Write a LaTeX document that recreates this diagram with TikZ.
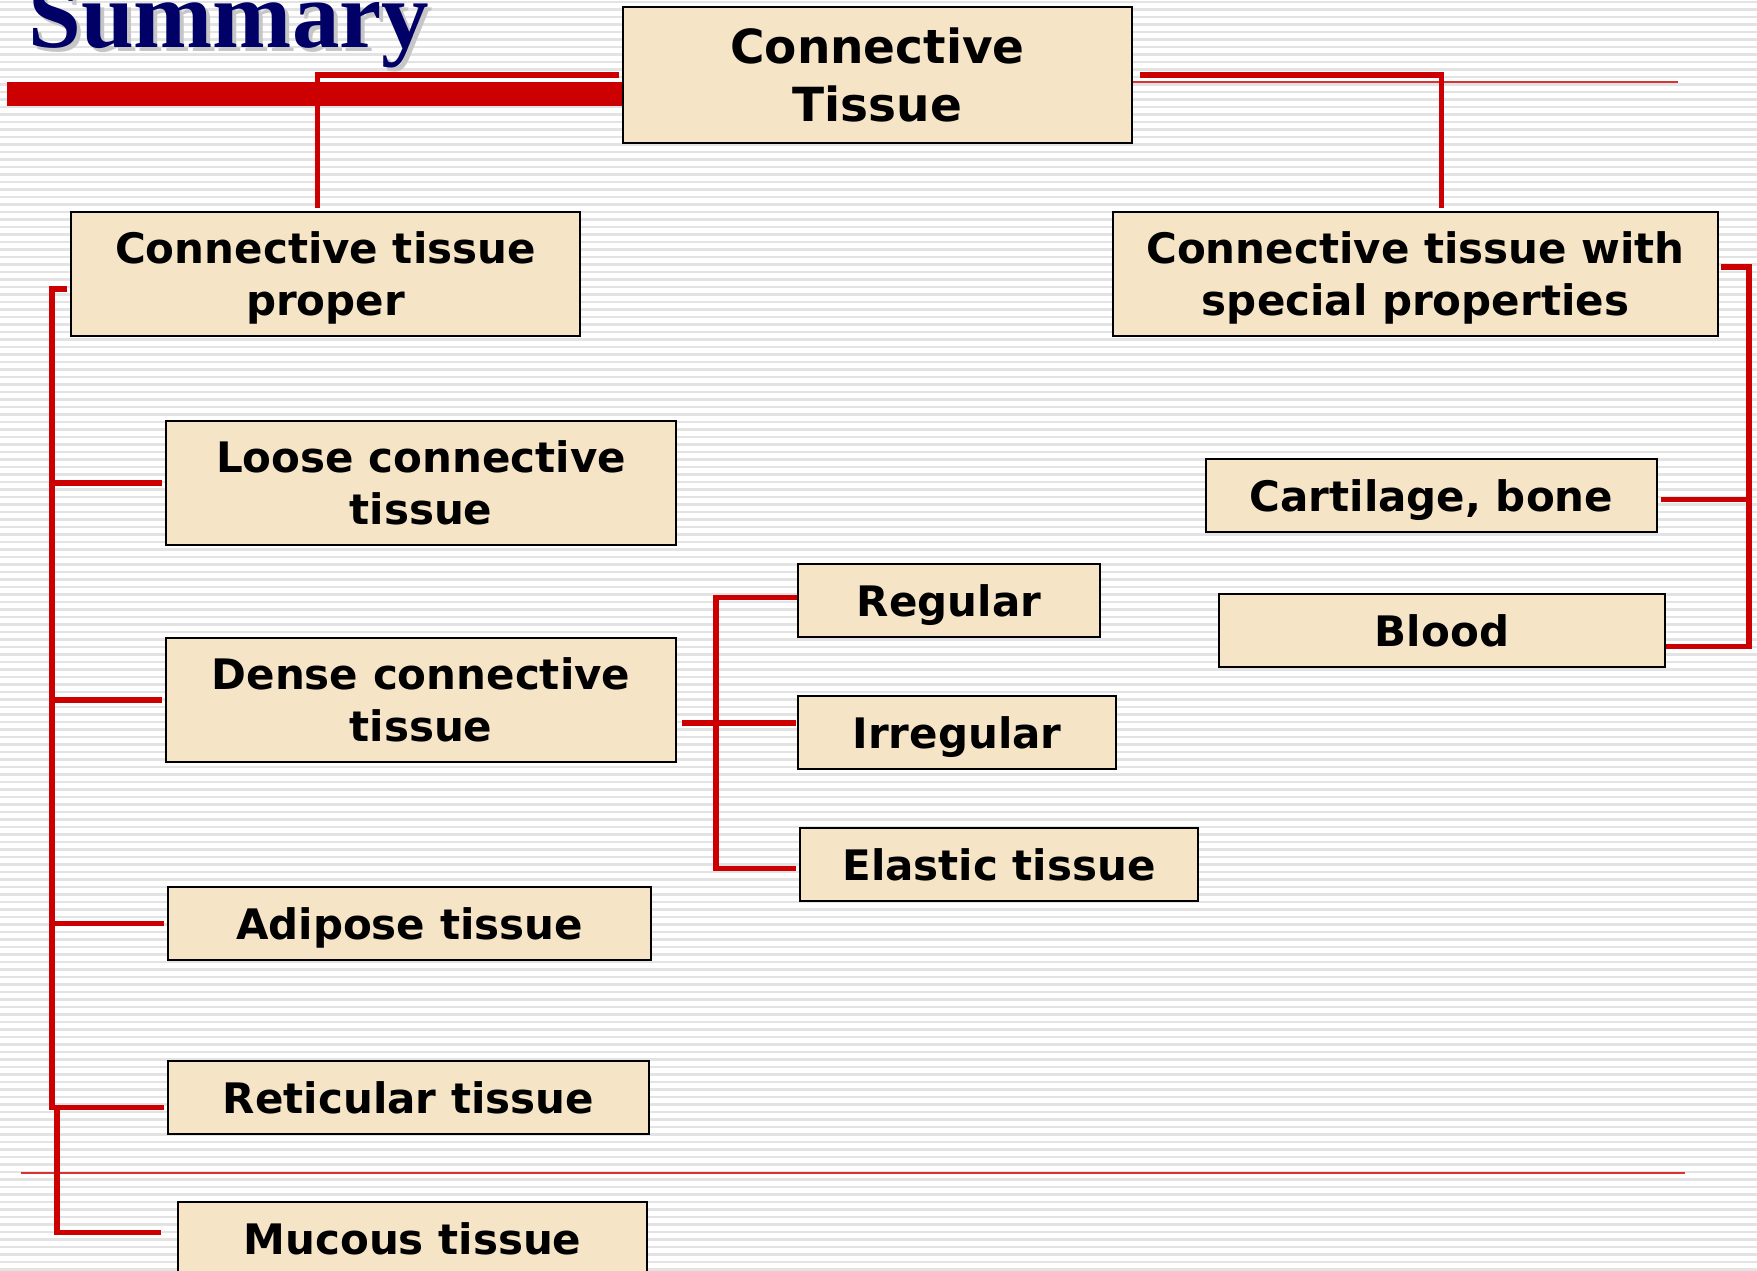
\documentclass[tikz,border=0pt]{standalone}
\usepackage{fontspec}
\setmainfont{DejaVu Sans}
\newfontfamily\titlefont{Liberation Serif}

\definecolor{boxfill}{RGB}{246,228,199}
\definecolor{linkred}{RGB}{204,0,0}
\definecolor{navy}{RGB}{0,0,102}

\tikzset{
  box/.style={draw=black, line width=1.8pt, fill=boxfill, inner sep=0pt,
    align=center, minimum height=73pt, text depth=0pt,
    font=\bfseries\fontsize{42}{52}\selectfont},
  link/.style={draw=linkred, line width=5.5pt, shorten >=3pt},
  stripe/.style={draw=gray!22, line width=2.2pt},
  thinred/.style={draw=linkred!80, line width=1.6pt},
  titletext/.style={anchor=base west, inner sep=0pt,
    font=\titlefont\bfseries\fontsize{95}{95}\selectfont},
}

\begin{document}
\begin{tikzpicture}[x=1pt,y=-1pt]
  \useasboundingbox (0,0) rectangle (1757,1271);
  \fill[white] (0,0) rectangle (1757,1271);
  \foreach \y in {2,9.5,...,1271}
    \draw[stripe] (0,\y) -- (1757,\y);

  % heading and rules
  \draw[thinred] (1133,82) -- (1678,82);
  \draw[thinred, line width=1.2pt] (21,1173) -- (1685,1173);
  \fill[linkred] (7,82) rectangle (623,106);
  \node[titletext, text=gray!45] (titleshadow) at (32,52) {Summary};
  \node[titletext, text=navy] (title) at (28,48) {Summary};

  % boxes
  \node[box, minimum width=509pt, minimum height=136pt,
    font=\bfseries\fontsize{47}{58}\selectfont] (main) at (877.5,75) {Connective\\Tissue};
  \node[box, minimum width=509pt, minimum height=124pt] (proper) at (325.5,274) {Connective tissue\\proper};
  \node[box, minimum width=605pt, minimum height=124pt] (special) at (1415.5,274) {Connective tissue with\\special properties};
  \node[box, minimum width=510pt, minimum height=124pt] (loose) at (421,483) {Loose connective\\tissue};
  \node[box, minimum width=510pt, minimum height=124pt] (dense) at (421,700) {Dense connective\\tissue};
  \node[box, minimum width=483pt] (adipose) at (409.5,923.5) {Adipose tissue};
  \node[box, minimum width=481pt] (reticular) at (408.5,1097.5) {Reticular tissue};
  \node[box, minimum width=469pt] (mucous) at (412.5,1238.5) {Mucous tissue};
  \node[box, minimum width=302pt] (regular) at (949,600.5) {Regular};
  \node[box, minimum width=318pt] (irregular) at (957,732.5) {Irregular};
  \node[box, minimum width=398pt] (elastic) at (999,864.5) {Elastic tissue};
  \node[box, minimum width=451pt] (cartilage) at (1431.5,495.5) {Cartilage, bone};
  \node[box, minimum width=446pt] (blood) at (1442,630.5) {Blood};

  % trunks
  \coordinate (trunkL) at (52,0);
  \coordinate (trunkM) at (57,0);
  \coordinate (trunkD) at (716,0);
  \coordinate (trunkS) at (1749,0);

  \draw[link, shorten <=3pt] (main.west) -| ([xshift=-8pt]proper.north);
  \draw[link, shorten <=7pt] (main.east) -| ([xshift=26pt]special.north);

  % proper tissue
  \coordinate (pL) at ([yshift=-15pt]proper.west);
  \coordinate (rL) at ([yshift=-10pt]reticular.west);
  \draw[link, shorten <=3pt] (pL) -| (trunkL |- rL) -- (rL);
  \foreach \n in {loose,dense,adipose}
    \draw[link] (trunkL |- \n.west) -- (\n.west);
  \coordinate (mL) at ([yshift=6pt]mucous.west);
  \draw[link, shorten >=16pt] (trunkM |- rL) |- (mL);

  % dense tissue
  \coordinate (dE) at ([yshift=-23pt]dense.east);
  \draw[link, shorten <=5pt, shorten >=1pt] (dE) -- (dE -| irregular.west);
  \coordinate (eW) at ([yshift=-4pt]elastic.west);
  \draw[link] ([yshift=3pt]regular.west) -| (trunkD |- eW) -- (eW);

  % special properties
  \coordinate (bE) at ([yshift=-16pt]blood.east);
  \draw[link, shorten <=2pt, shorten >=0pt] ([yshift=7pt]special.east) -| (trunkS |- bE) -- (bE);
  \coordinate (cE) at ([yshift=-4pt]cartilage.east);
  \draw[link] (trunkS |- cE) -- (cE);
\end{tikzpicture}
\end{document}
